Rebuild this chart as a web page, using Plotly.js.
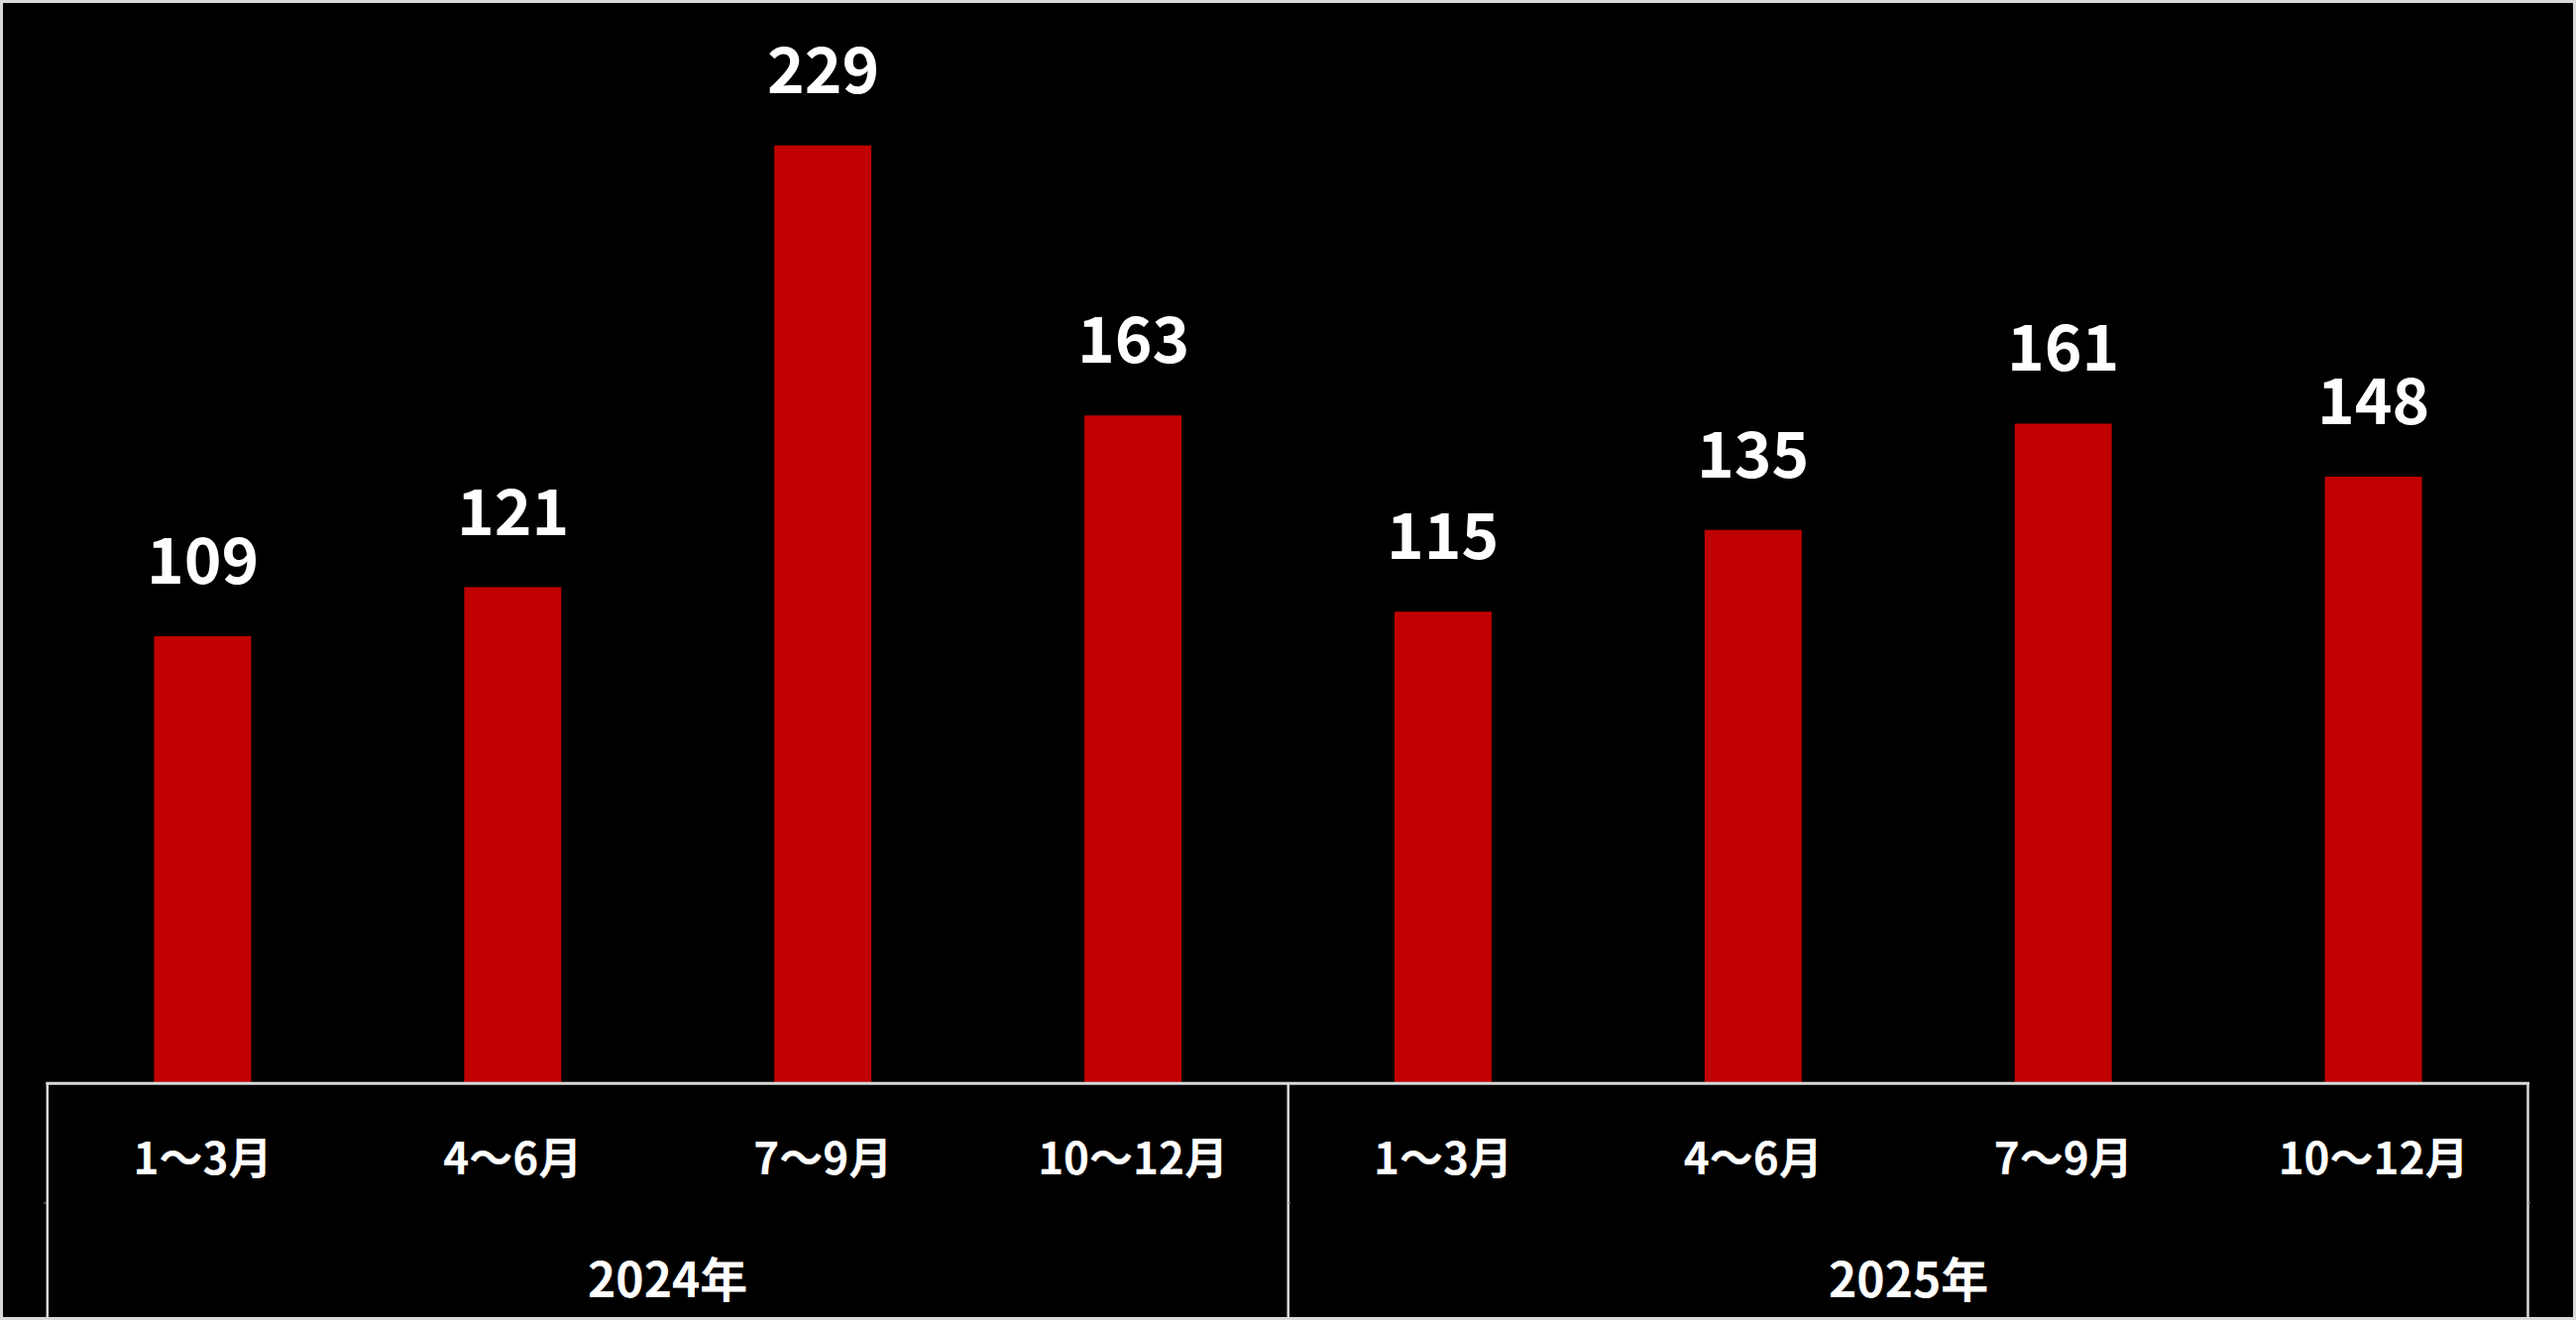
<!DOCTYPE html>
<html>
<head>
<meta charset="utf-8">
<script src="https://cdn.plot.ly/plotly-3.0.1.min.js"></script>
<style>
html,body{margin:0;padding:0;background:#000;overflow:hidden;}
#chart{width:2599px;height:1332px;}
</style>
</head>
<body>
<div id="chart"></div>
<script>
// Data
const years = ["2024年", "2024年", "2024年", "2024年", "2025年", "2025年", "2025年", "2025年"];
const quarters = ["1～3月", "4～6月", "7～9月", "10～12月", "1～3月", "4～6月", "7～9月", "10～12月"];
const values = [109, 121, 229, 163, 115, 135, 161, 148];
const yearGroups = ["2024年", "2025年"];

const W = 2599, H = 1332;
const M = {l: 48, r: 48, t: 60, b: 240};
const PW = W - M.l - M.r, PH = H - M.t - M.b;
const px = v => (v - M.l) / PW;
const py = v => (H - M.b - v) / PH;

const keys = years.map((y, i) => y + "|" + quarters[i]);
const FONT = "Noto Sans CJK JP, Noto Sans, sans-serif";

const trace = {
  type: "bar",
  x: keys,
  y: values,
  marker: {color: "#C00000"},
  hoverinfo: "skip",
  showlegend: false
};

const annotations = [];
values.forEach((v, i) => {
  annotations.push({
    x: keys[i], y: v, xref: "x", yref: "y",
    text: String(v), showarrow: false,
    yanchor: "middle", yshift: 81,
    font: {family: FONT, size: 64, color: "#ffffff", weight: "bold"}
  });
});
yearGroups.forEach(g => {
  const idx = years.map((y, i) => y === g ? i : -1).filter(i => i >= 0);
  const center = (idx[0] + idx[idx.length - 1]) / 2;
  annotations.push({
    x: center, y: py(1288), xref: "x", yref: "paper",
    text: g, showarrow: false, yanchor: "middle",
    font: {family: FONT, size: 48, color: "#ffffff", weight: "bold"}
  });
});

const lineCol = "#d9d9d9";
const tickCol = "#8c8c8c";
const shapes = [
  {type: "rect", xref: "paper", yref: "paper", x0: px(1.5), x1: px(2597.5), y0: py(1.5), y1: py(1330.5),
   line: {color: lineCol, width: 3}},
  {type: "line", xref: "paper", yref: "paper", x0: px(46.5), x1: px(2552), y0: py(1093.3), y1: py(1093.3),
   line: {color: lineCol, width: 3}},
  {type: "line", xref: "paper", yref: "paper", x0: px(47.8), x1: px(47.8), y0: py(1092), y1: py(1331),
   line: {color: lineCol, width: 2.5}},
  {type: "line", xref: "paper", yref: "paper", x0: px(1299.7), x1: px(1299.7), y0: py(1092), y1: py(1331),
   line: {color: lineCol, width: 2.5}},
  {type: "line", xref: "paper", yref: "paper", x0: px(2550.5), x1: px(2550.5), y0: py(1092), y1: py(1331),
   line: {color: lineCol, width: 2.5}},
  {type: "line", xref: "paper", yref: "paper", x0: px(44), x1: px(47), y0: py(1214), y1: py(1214),
   line: {color: tickCol, width: 1}},
  {type: "line", xref: "paper", yref: "paper", x0: px(1299), x1: px(1302), y0: py(1214), y1: py(1214),
   line: {color: tickCol, width: 1}},
  {type: "line", xref: "paper", yref: "paper", x0: px(2550), x1: px(2553), y0: py(1214), y1: py(1214),
   line: {color: tickCol, width: 1}}
];

const layout = {
  width: W, height: H,
  margin: M,
  paper_bgcolor: "#000000",
  plot_bgcolor: "#000000",
  bargap: 0.687,
  showlegend: false,
  xaxis: {
    type: "category",
    tickvals: keys, ticktext: quarters,
    tickfont: {family: FONT, size: 44, color: "#ffffff", weight: "bold"},
    ticks: "", showline: false, showgrid: false, zeroline: false,
    ticklabelstandoff: 48
  },
  yaxis: {
    range: [0, 250], visible: false, showgrid: false, zeroline: false
  },
  annotations: annotations,
  shapes: shapes
};

Plotly.newPlot("chart", [trace], layout, {displayModeBar: false, staticPlot: true});
</script>
</body>
</html>
